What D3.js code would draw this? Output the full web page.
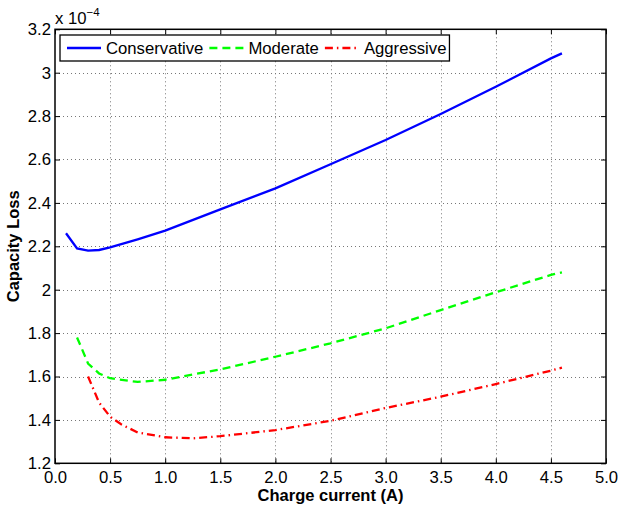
<!DOCTYPE html>
<html>
<head>
<meta charset="utf-8">
<script src="https://cdn.jsdelivr.net/npm/d3@7"></script>
<style>
  body { margin: 0; background: #fff; }
  svg { display: block; font-family: "Liberation Sans", Arial, sans-serif; }
</style>
</head>
<body>
<div id="container"></div>
<script>
// values (y in units of 1e-4)
const consX = [0.1, 0.2, 0.3, 0.4, 0.5, 0.75, 1.0, 1.5, 2.0, 2.5, 3.0, 3.5, 4.0, 4.5, 4.6];
const consY = [2.26, 2.19, 2.18, 2.183, 2.195, 2.232, 2.272, 2.37, 2.467, 2.578, 2.69, 2.81, 2.935, 3.066, 3.089];

const modX = [0.2, 0.3, 0.4, 0.5, 0.75, 1.0, 1.5, 2.0, 2.5, 3.0, 3.5, 4.0, 4.5, 4.6];
const modY = [1.78, 1.66, 1.614, 1.592, 1.575, 1.585, 1.633, 1.691, 1.753, 1.822, 1.906, 1.988, 2.068, 2.08];

const aggX = [0.3, 0.4, 0.5, 0.6, 0.75, 1.0, 1.25, 1.5, 2.0, 2.5, 3.0, 3.5, 4.0, 4.5, 4.6];
const aggY = [1.60, 1.48, 1.415, 1.38, 1.342, 1.32, 1.315, 1.325, 1.353, 1.396, 1.455, 1.507, 1.565, 1.627, 1.641];

const xTicks = [0, 0.5, 1, 1.5, 2, 2.5, 3, 3.5, 4, 4.5, 5];
const yTicks = [1.2, 1.4, 1.6, 1.8, 2, 2.2, 2.4, 2.6, 2.8, 3, 3.2];

const seriesNames = ["Conservative", "Moderate", "Aggressive"];
const seriesColors = ["#0000ff", "#00ff00", "#ff0000"];
const seriesDash = [null, "8,5", "8,4,1.5,4"];

const W = 618, H = 508;
const mLeft = 55, mRight = 606, mTop = 29.3, mBottom = 463.3;
const fs = 16.7;

const x = d3.scaleLinear().domain([0, 5]).range([mLeft, mRight]);
const y = d3.scaleLinear().domain([1.2, 3.2]).range([mBottom, mTop]);

const svg = d3.select("#container").append("svg")
    .attr("width", W)
    .attr("height", H);

// grid
const grid = svg.append("g")
    .attr("stroke", "#777")
    .attr("stroke-width", 1)
    .attr("stroke-dasharray", "1,3");
grid.selectAll("line.gx")
  .data(xTicks.slice(1, -1))
  .join("line")
    .attr("class", "gx")
    .attr("x1", d => Math.round(x(d)) + 0.5).attr("x2", d => Math.round(x(d)) + 0.5)
    .attr("y1", mTop).attr("y2", mBottom);
grid.selectAll("line.gy")
  .data(yTicks.slice(1, -1))
  .join("line")
    .attr("class", "gy")
    .attr("x1", mLeft).attr("x2", mRight)
    .attr("y1", d => Math.round(y(d)) + 0.5).attr("y2", d => Math.round(y(d)) + 0.5);

// series
const sets = [
  consX.map((v, i) => [v, consY[i]]),
  modX.map((v, i) => [v, modY[i]]),
  aggX.map((v, i) => [v, aggY[i]])
];
const line = d3.line().x(d => x(d[0])).y(d => y(d[1]));

svg.append("g")
    .attr("fill", "none")
  .selectAll("path")
  .data(sets)
  .join("path")
    .attr("d", line)
    .attr("stroke", (d, i) => seriesColors[i])
    .attr("stroke-width", 2.3)
    .attr("stroke-dasharray", (d, i) => seriesDash[i]);

// axes (MATLAB style, ticks inward on all four sides)
const fmtX = d3.format(".1f");
const fmtY = d => d3.format("~g")(d);

svg.append("g")
    .attr("transform", `translate(0,${mBottom})`)
    .call(d3.axisBottom(x).tickValues(xTicks).tickSizeInner(-5).tickSizeOuter(0).tickPadding(7.5).tickFormat(fmtX))
    .call(g => g.select(".domain").remove())
    .call(g => g.selectAll("text").attr("font-size", fs).attr("fill", "#000").attr("font-family", "Liberation Sans, Arial, sans-serif"));

svg.append("g")
    .attr("transform", `translate(${mLeft},0)`)
    .call(d3.axisLeft(y).tickValues(yTicks).tickSizeInner(-5).tickSizeOuter(0).tickPadding(4).tickFormat(fmtY))
    .call(g => g.select(".domain").remove())
    .call(g => g.selectAll("text").attr("font-size", fs).attr("fill", "#000").attr("font-family", "Liberation Sans, Arial, sans-serif"));

svg.append("g")
    .attr("transform", `translate(0,${mTop})`)
    .call(d3.axisTop(x).tickValues(xTicks).tickSizeInner(-5).tickSizeOuter(0).tickFormat(""))
    .call(g => g.select(".domain").remove());

svg.append("g")
    .attr("transform", `translate(${mRight},0)`)
    .call(d3.axisRight(y).tickValues(yTicks).tickSizeInner(-5).tickSizeOuter(0).tickFormat(""))
    .call(g => g.select(".domain").remove());

svg.append("rect")
    .attr("x", mLeft).attr("y", mTop)
    .attr("width", mRight - mLeft).attr("height", mBottom - mTop)
    .attr("fill", "none")
    .attr("stroke", "#000")
    .attr("stroke-width", 1.5);

// exponent label
const ex = svg.append("text")
    .attr("x", mLeft).attr("y", 24)
    .attr("font-size", fs);
ex.append("tspan").text("x 10");
ex.append("tspan").attr("font-size", 11.5).attr("dy", -8).text("\u22124");

// axis titles
svg.append("text")
    .attr("x", (mLeft + mRight) / 2).attr("y", 501)
    .attr("text-anchor", "middle")
    .attr("font-size", 16.5).attr("font-weight", "bold")
    .text("Charge current (A)");

svg.append("text")
    .attr("transform", `translate(19,${(mTop + mBottom) / 2}) rotate(-90)`)
    .attr("text-anchor", "middle")
    .attr("font-size", 16.5).attr("font-weight", "bold")
    .text("Capacity Loss");

// legend
const legend = svg.append("g");
const legBox = legend.append("rect")
    .attr("fill", "#fff").attr("stroke", "#000").attr("stroke-width", 1.3);
let cx = 67;
seriesNames.forEach((name, i) => {
  legend.append("line")
      .attr("x1", cx).attr("x2", cx + 34)
      .attr("y1", 48).attr("y2", 48)
      .attr("stroke", seriesColors[i]).attr("stroke-width", 2.3)
      .attr("stroke-dasharray", seriesDash[i]);
  const t = legend.append("text")
      .attr("x", cx + 39).attr("y", 54)
      .attr("font-size", fs)
      .text(name);
  cx = cx + 39 + t.node().getComputedTextLength() + 6;
});
legBox.attr("x", 60).attr("y", 35).attr("width", cx - 60 - 3).attr("height", 26);
</script>
</body>
</html>
